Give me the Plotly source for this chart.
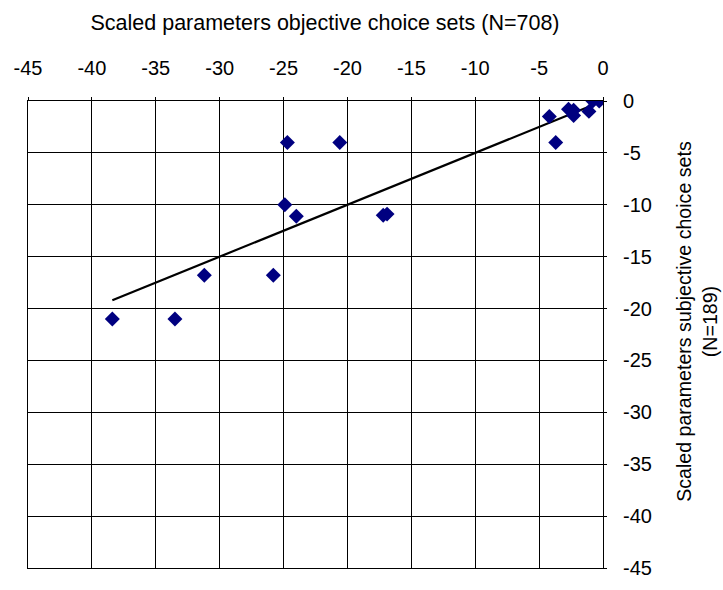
import numpy as np
import plotly.graph_objects as go

# Data
objective_x = [-38.4, -33.5, -31.2, -25.8, -24.7, -20.6, -24.9, -24.0, -17.2, -16.9,
               -4.2, -3.7, -2.7, -2.3, -2.3, -1.1, -0.8, -0.3]
subjective_y = [-21.0, -21.0, -16.8, -16.8, -4.0, -4.0, -10.0, -11.1, -11.0, -10.9,
                -1.5, -4.0, -0.8, -0.9, -1.4, -1.0, 0.0, 0.0]
trend_slope = 0.5
trend_intercept = 0.0

tick_vals = [-45, -40, -35, -30, -25, -20, -15, -10, -5, 0]
tick_text = ["-45", "-40", "-35", "-30", "-25", "-20", "-15", "-10", "-5", "0"]

x_title = "Scaled parameters objective choice sets (N=708)"
y_title = "Scaled parameters subjective choice sets<br>(N=189)"

W, H = 723, 590
L, R, T, B = 28, 120, 101, 11

tx = np.array([min(objective_x), max(objective_x)])
ty = trend_slope * tx + trend_intercept

fig = go.Figure()
fig.add_trace(go.Scatter(x=tx, y=ty, mode="lines",
                         line=dict(color="black", width=2.2),
                         showlegend=False, hoverinfo="skip"))
fig.add_trace(go.Scatter(x=objective_x, y=subjective_y, mode="markers",
                         marker=dict(symbol="diamond", size=11.5, color="#000080",
                                     line=dict(width=0)),
                         showlegend=False))

fam = "Liberation Sans, Arial, sans-serif"
tick_font = dict(family=fam, size=20, color="black")
xt_font = dict(family=fam, size=21.5, color="black")
yt_font = dict(family=fam, size=19.6, color="black")

axis_common = dict(range=[-45, 0], tickvals=tick_vals, ticktext=tick_text, showgrid=True,
                   gridcolor="#000000", gridwidth=1, showline=True, linecolor="#000000",
                   linewidth=1, mirror=True, ticks="outside", ticklen=3,
                   tickcolor="#000000", zeroline=False, tickfont=tick_font)

fig.update_layout(
    width=W, height=H,
    margin=dict(l=L, r=R, t=T, b=B),
    paper_bgcolor="white", plot_bgcolor="white",
    font=tick_font,
    xaxis=dict(side="top", ticklabelstandoff=14, **axis_common),
    yaxis=dict(side="right", ticklabelstandoff=12, **axis_common),
    title=dict(text=x_title, x=325 / W, xref="container", xanchor="center",
               y=1 - 22 / H, yref="container", yanchor="middle", font=xt_font),
    annotations=[dict(text=y_title, textangle=-90, xref="paper", yref="paper",
                      x=1 + (697 - 603) / (W - L - R), y=0.5 + (340 - 327) / (H - T - B),
                      xanchor="center", yanchor="middle", showarrow=False,
                      font=yt_font, align="center")],
)

fig.write_html("out.html")
